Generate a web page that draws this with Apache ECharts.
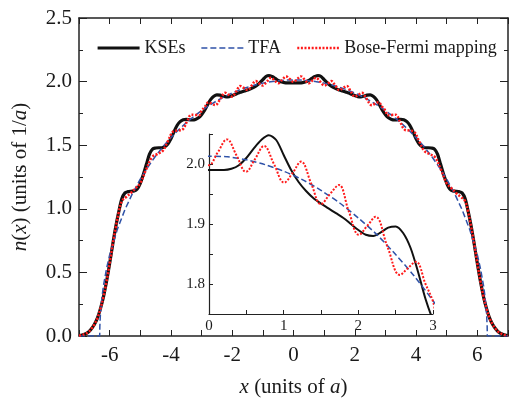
<!DOCTYPE html>
<html>
<head>
<meta charset="utf-8">
<script src="https://cdn.jsdelivr.net/npm/echarts@6/dist/echarts.min.js"></script>
<style>html,body{margin:0;padding:0;background:#fff;}#c{width:511px;height:403px;}</style>
</head>
<body>
<div id="c"></div>
<script>
// ---- data ----
const seriesNames = ['KSEs', 'TFA', 'Bose-Fermi mapping'];

const kseX = [-7,-6.9,-6.8,-6.7,-6.6,-6.5,-6.4,-6.3,-6.2,-6.1,-6,-5.9,-5.8,-5.7,-5.6,-5.5,-5.4,-5.3,-5.2,-5.1,-5,-4.9,-4.8,-4.7,-4.6,-4.5,-4.4,-4.3,-4.2,-4.1,-4,-3.9,-3.8,-3.7,-3.6,-3.5,-3.4,-3.3,-3.2,-3.1,-3,-2.9,-2.8,-2.7,-2.6,-2.5,-2.4,-2.3,-2.2,-2.1,-2,-1.9,-1.8,-1.7,-1.6,-1.5,-1.4,-1.3,-1.2,-1.1,-1,-0.9,-0.8,-0.7,-0.6,-0.5,-0.4,-0.3,-0.2,-0.1,0,0.1,0.2,0.3,0.4,0.5,0.6,0.7,0.8,0.9,1,1.1,1.2,1.3,1.4,1.5,1.6,1.7,1.8,1.9,2,2.1,2.2,2.3,2.4,2.5,2.6,2.7,2.8,2.9,3,3.1,3.2,3.3,3.4,3.5,3.6,3.7,3.8,3.9,4,4.1,4.2,4.3,4.4,4.5,4.6,4.7,4.8,4.9,5,5.1,5.2,5.3,5.4,5.5,5.6,5.7,5.8,5.9,6,6.1,6.2,6.3,6.4,6.5,6.6,6.7,6.8,6.9,7];
const kseY = [0.004,0.008,0.016,0.030,0.055,0.090,0.140,0.215,0.310,0.430,0.570,0.720,0.860,0.980,1.080,1.125,1.135,1.138,1.140,1.155,1.200,1.270,1.350,1.430,1.470,1.478,1.480,1.480,1.488,1.510,1.550,1.605,1.655,1.685,1.700,1.703,1.700,1.698,1.702,1.715,1.740,1.775,1.820,1.860,1.885,1.896,1.894,1.886,1.880,1.882,1.890,1.900,1.910,1.918,1.926,1.934,1.943,1.955,1.970,1.990,2.015,2.040,2.048,2.040,2.026,2.010,1.998,1.992,1.990,1.990,
  1.990,
  1.990,1.990,1.992,1.998,2.010,2.026,2.040,2.048,2.040,2.015,1.990,1.970,1.955,1.943,1.934,1.926,1.918,1.910,1.900,1.890,1.882,1.880,1.886,1.894,1.896,1.885,1.860,1.820,1.775,1.740,1.715,1.702,1.698,1.700,1.703,1.700,1.685,1.655,1.605,1.550,1.510,1.488,1.480,1.480,1.478,1.470,1.430,1.350,1.270,1.200,1.155,1.140,1.138,1.135,1.125,1.080,0.980,0.860,0.720,0.570,0.430,0.310,0.215,0.140,0.090,0.055,0.030,0.016,0.008,0.004];

const tfaX = [-7,-6.325,-6.32,-6.3,-6.25,-6.2,-6.1,-6,-5.75,-5.5,-5.25,-5,-4.75,-4.5,-4.25,-4,-3.75,-3.5,-3.25,-3,-2.75,-2.5,-2.25,-2,-1.75,-1.5,-1.25,-1,-0.75,-0.5,-0.25,0,0.25,0.5,0.75,1,1.25,1.5,1.75,2,2.25,2.5,2.75,3,3.25,3.5,3.75,4,4.25,4.5,4.75,5,5.25,5.5,5.75,6,6.1,6.2,6.25,6.3,6.32,6.325,7];
const tfaY = [0,0,0.076,0.177,0.308,0.398,0.532,0.637,0.838,0.994,1.123,1.233,1.329,1.415,1.491,1.559,1.621,1.677,1.727,1.772,1.813,1.849,1.882,1.910,1.935,1.956,1.974,1.988,1.999,2.007,2.012,2.013,2.012,2.007,1.999,1.988,1.974,1.956,1.935,1.910,1.882,1.849,1.813,1.772,1.727,1.677,1.621,1.559,1.491,1.415,1.329,1.233,1.123,0.994,0.838,0.637,0.532,0.398,0.308,0.177,0.076,0,0];

const bfX = [-7,-6.9,-6.8,-6.7,-6.6,-6.5,-6.4,-6.3,-6.2,-6.1,-6,-5.9,-5.8,-5.7,-5.6,-5.45,-5.3,-5.15,-5,-4.82,-4.62,-4.45,-4.27,-4.1,-3.93,-3.78,-3.63,-3.48,-3.33,-3.2,-3.08,-3,-2.9,-2.77,-2.66,-2.557,-2.39,-2.23,-2.12,-2.008,-1.87,-1.74,-1.62,-1.499,-1.37,-1.232,-1.12,-1.008,-0.87,-0.736,-0.615,-0.495,-0.37,-0.24,-0.12,
  0,
  0.12,0.24,0.37,0.495,0.615,0.736,0.87,1.008,1.12,1.232,1.37,1.499,1.62,1.74,1.87,2.008,2.12,2.23,2.39,2.557,2.66,2.77,2.9,3,3.08,3.2,3.33,3.48,3.63,3.78,3.93,4.1,4.27,4.45,4.62,4.82,5,5.15,5.3,5.45,5.6,5.7,5.8,5.9,6,6.1,6.2,6.3,6.4,6.5,6.6,6.7,6.8,6.9,7];
const bfY = [0.004,0.008,0.016,0.030,0.055,0.090,0.140,0.215,0.310,0.430,0.570,0.720,0.855,0.975,1.060,1.095,1.126,1.163,1.200,1.303,1.405,1.430,1.455,1.531,1.607,1.615,1.622,1.683,1.740,1.738,1.736,1.771,1.800,1.837,1.826,1.815,1.862,1.912,1.897,1.882,1.922,1.965,1.950,1.933,1.967,2.004,1.985,1.969,2.000,2.030,2.008,1.987,2.014,2.041,2.020,
  1.998,
  2.020,2.041,2.014,1.987,2.008,2.030,2.000,1.969,1.985,2.004,1.967,1.933,1.950,1.965,1.922,1.882,1.897,1.912,1.862,1.815,1.826,1.837,1.800,1.771,1.736,1.738,1.740,1.683,1.622,1.615,1.607,1.531,1.455,1.430,1.405,1.303,1.200,1.163,1.126,1.095,1.060,0.975,0.855,0.720,0.570,0.430,0.310,0.215,0.140,0.090,0.055,0.030,0.016,0.008,0.004];

const mainYRange = [0, 2.5];
const insetXRange = [0, 3];
const insetYRange = [1.75, 2.05];

// ---- chart ----
const pairs = (xs, ys) => xs.map((x, i) => [x, ys[i]]);
const FONT = 'Liberation Serif';
const TXT = '#1a1a1a';
const BLACK = '#111111', BLUE = '#2f52a8', RED = '#ff1a1a';

const chart = echarts.init(document.getElementById('c'), null, {renderer: 'canvas'});

const axLine = {show: true, onZero: false, lineStyle: {color: '#222', width: 1.5}};
const insetLine = {show: true, onZero: false, lineStyle: {color: '#222', width: 1.2}};
const italic = {i: {fontStyle: 'italic', fontFamily: FONT, fontSize: 21, color: TXT}};

const legendStyles = [
  {lineStyle: {color: BLACK, width: 3.2, type: 'solid'}},
  {lineStyle: {color: BLUE, width: 1.5, type: [6, 3]}},
  {lineStyle: {color: RED, width: 2.5, type: [2, 1.6]}}
];

const option = {
  animation: false,
  backgroundColor: '#fff',
  legend: {
    data: seriesNames.map((n, i) => Object.assign({name: n}, legendStyles[i])),
    left: 96, top: 39, padding: 0,
    itemWidth: 42, itemHeight: 14, itemGap: 15,
    itemStyle: {color: 'rgba(0,0,0,0)', borderWidth: 0},
    textStyle: {fontFamily: FONT, fontSize: 18, color: TXT}
  },
  grid: [
    {left: 79, right: 1, top: 18, bottom: 60},
    {left: 209, right: 78, top: 134, bottom: 89}
  ],
  xAxis: [
    {gridIndex: 0, type: 'value', position: 'bottom', min: -7, max: 7, interval: 1,
     axisLine: axLine, splitLine: {show: false},
     axisTick: {inside: true, length: 6, lineStyle: {color: '#222', width: 1}},
     axisLabel: {fontFamily: FONT, fontSize: 21, color: TXT, margin: 9,
       formatter: v => (Math.round(v) % 2 === 0 ? String(Math.round(v)) : '')},
     name: '{i|x} (units of {i|a})', nameLocation: 'middle', nameGap: 41,
     nameTextStyle: {fontFamily: FONT, fontSize: 21, color: TXT, rich: italic}},
    {gridIndex: 0, type: 'value', position: 'top', min: -7, max: 7, interval: 1,
     axisLine: axLine, splitLine: {show: false},
     axisTick: {inside: true, length: 6, lineStyle: {color: '#222', width: 1}},
     axisLabel: {show: false}},
    {gridIndex: 1, type: 'value', min: insetXRange[0], max: insetXRange[1], interval: 0.5,
     axisLine: insetLine, splitLine: {show: false},
     axisTick: {inside: true, length: 4, lineStyle: {color: '#222', width: 1}},
     axisLabel: {fontFamily: FONT, fontSize: 15, color: TXT, margin: 5,
       formatter: v => (Math.abs(v - Math.round(v)) < 1e-6 ? String(Math.round(v)) : '')}}
  ],
  yAxis: [
    {gridIndex: 0, type: 'value', position: 'left', min: mainYRange[0], max: mainYRange[1], interval: 0.5,
     axisLine: axLine, splitLine: {show: false},
     axisTick: {inside: true, length: 8, lineStyle: {color: '#222', width: 1}},
     minorTick: {show: true, splitNumber: 2, length: 4, lineStyle: {color: '#222', width: 1}},
     axisLabel: {fontFamily: FONT, fontSize: 21, color: TXT, margin: 7, formatter: v => v.toFixed(1)},
     name: '{i|n}({i|x}) (units of 1/{i|a})', nameLocation: 'middle', nameGap: 48, nameRotate: 90,
     nameTextStyle: {fontFamily: FONT, fontSize: 21, color: TXT, rich: italic}},
    {gridIndex: 0, type: 'value', position: 'right', min: mainYRange[0], max: mainYRange[1], interval: 0.5,
     axisLine: axLine, splitLine: {show: false},
     axisTick: {inside: true, length: 8, lineStyle: {color: '#222', width: 1}},
     minorTick: {show: true, splitNumber: 2, length: 4, lineStyle: {color: '#222', width: 1}},
     axisLabel: {show: false}},
    {gridIndex: 1, type: 'value', min: insetYRange[0], max: insetYRange[1], interval: 0.05,
     axisLine: insetLine, splitLine: {show: false},
     axisTick: {inside: true, length: 4, lineStyle: {color: '#222', width: 1}},
     axisLabel: {fontFamily: FONT, fontSize: 15, color: TXT, margin: 4,
       formatter: v => (Math.round(v * 100) % 10 === 0 ? v.toFixed(1) : '')}}
  ],
  series: [
    {name: 'KSEs', type: 'line', xAxisIndex: 0, yAxisIndex: 0, data: pairs(kseX, kseY),
     symbol: 'none', smooth: 0.3, lineStyle: {color: BLACK, width: 3.2}, itemStyle: {color: BLACK}, z: 2},
    {name: 'TFA', type: 'line', xAxisIndex: 0, yAxisIndex: 0, data: pairs(tfaX, tfaY),
     symbol: 'none', smooth: false, lineStyle: {color: BLUE, width: 1.5, type: [6, 3]}, itemStyle: {color: BLUE}, z: 3},
    {name: 'Bose-Fermi mapping', type: 'line', xAxisIndex: 0, yAxisIndex: 0, data: pairs(bfX, bfY),
     symbol: 'none', smooth: 0.4, lineStyle: {color: RED, width: 2.5, type: [2, 1.6]}, itemStyle: {color: RED}, z: 4},
    {name: 'KSEs', type: 'line', xAxisIndex: 2, yAxisIndex: 2, data: pairs(kseX, kseY), clip: true,
     symbol: 'none', smooth: 0.3, lineStyle: {color: BLACK, width: 2}, z: 2},
    {name: 'TFA', type: 'line', xAxisIndex: 2, yAxisIndex: 2, data: pairs(tfaX, tfaY), clip: true,
     symbol: 'none', smooth: 0.3, lineStyle: {color: BLUE, width: 1.5, type: [6, 3]}, z: 3},
    {name: 'Bose-Fermi mapping', type: 'line', xAxisIndex: 2, yAxisIndex: 2, data: pairs(bfX, bfY), clip: true,
     symbol: 'none', smooth: 0.4, lineStyle: {color: RED, width: 2, type: [2, 1.6]}, z: 4}
  ]
};
chart.setOption(option);
</script>
</body>
</html>
